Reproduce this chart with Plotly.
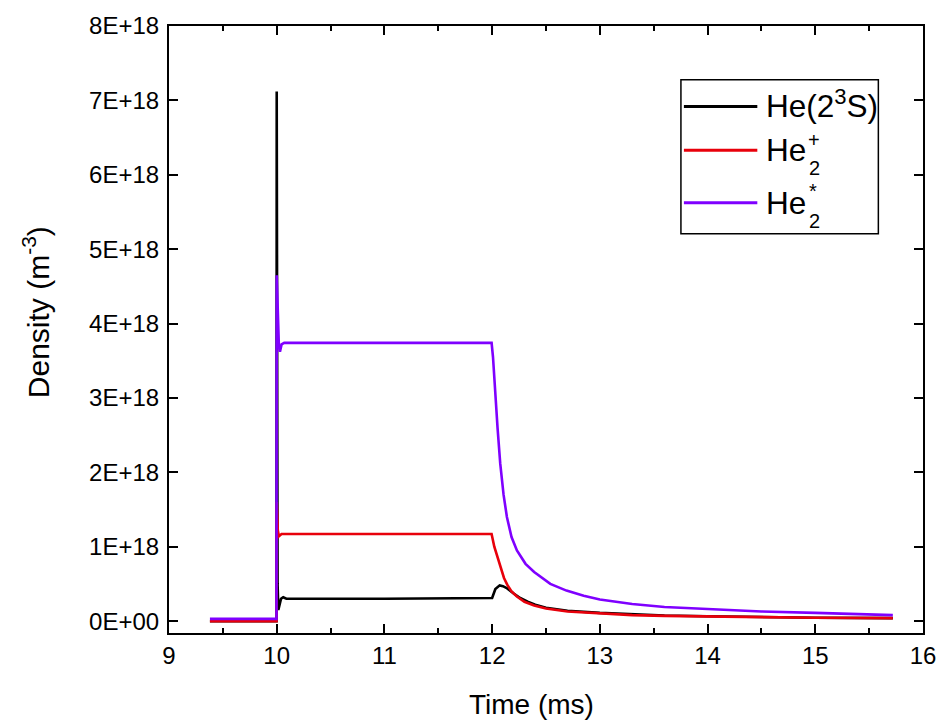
import plotly.graph_objects as go

# Densities in units of 1E+18 m^-3, time in ms
SCALE = 1e18

t_he23s = [9.38, 9.998, 10.0, 10.003, 10.008, 10.015, 10.025, 10.04, 10.06, 10.09,
           11.0, 11.985, 12.0, 12.03, 12.07, 12.1, 12.14, 12.2, 12.26, 12.33, 12.4,
           12.5, 12.7, 13.0, 13.3, 13.6, 14.0, 14.5, 15.0, 15.72]
n_he23s = [0.0, 0.0, 7.12, 1.6, 0.5, 0.15, 0.22, 0.3, 0.32, 0.3,
           0.3, 0.3, 0.31, 0.43, 0.48, 0.47, 0.44, 0.37, 0.31, 0.26, 0.22,
           0.18, 0.14, 0.11, 0.09, 0.075, 0.065, 0.052, 0.045, 0.04]

t_he2p = [9.38, 9.998, 10.0, 10.004, 10.01, 10.02, 10.03, 10.045, 10.07, 11.0,
          11.995, 12.02, 12.05, 12.08, 12.11, 12.14, 12.18, 12.23, 12.3, 12.39,
          12.5, 12.7, 13.0, 13.3, 13.6, 14.0, 14.5, 15.0, 15.72]
n_he2p = [0.0, 0.0, 1.6, 1.35, 1.22, 1.14, 1.15, 1.17, 1.17, 1.17,
          1.17, 1.0, 0.85, 0.7, 0.58, 0.49, 0.4, 0.33, 0.26, 0.21,
          0.17, 0.13, 0.1, 0.08, 0.07, 0.06, 0.05, 0.045, 0.04]

t_he2s = [9.38, 9.998, 10.0, 10.005, 10.012, 10.02, 10.03, 10.045, 10.07, 10.1,
          11.0, 11.995, 12.008, 12.025, 12.05, 12.075, 12.106, 12.137, 12.18, 12.23, 12.31,
          12.39, 12.54, 12.69, 12.85, 13.0, 13.3, 13.6, 14.0, 14.5, 15.0, 15.72]
n_he2s = [0.03, 0.03, 4.65, 4.4, 3.9, 3.7, 3.62, 3.72, 3.74, 3.74,
          3.74, 3.74, 3.55, 3.12, 2.6, 2.12, 1.7, 1.4, 1.13, 0.95, 0.77,
          0.66, 0.5, 0.41, 0.34, 0.29, 0.23, 0.19, 0.16, 0.13, 0.11, 0.08]

y_ticks = [0, 1, 2, 3, 4, 5, 6, 7, 8]
y_tick_text = ["0E+00", "1E+18", "2E+18", "3E+18", "4E+18", "5E+18", "6E+18", "7E+18", "8E+18"]
x_ticks = [9, 10, 11, 12, 13, 14, 15, 16]

BLACK = "#000000"
RED = "#e8000b"
PURPLE = "#7f00ff"
FONT = "Liberation Sans, Arial, sans-serif"

fig = go.Figure()
for t, n, c in [(t_he23s, n_he23s, BLACK), (t_he2p, n_he2p, RED), (t_he2s, n_he2s, PURPLE)]:
    fig.add_trace(go.Scatter(x=t, y=[v * SCALE for v in n], mode="lines",
                             line=dict(color=c, width=2.6), showlegend=False))

axis_common = dict(showline=True, linecolor="black", linewidth=2, mirror="ticks",
                   ticks="inside", tickwidth=2, tickcolor="black", ticklen=9,
                   showgrid=False, zeroline=False,
                   tickfont=dict(family=FONT, size=24, color="black"))

fig.update_xaxes(range=[9, 16], tickvals=x_ticks,
                 minor=dict(dtick=0.5, ticks="inside", ticklen=5, tickwidth=2, tickcolor="black"),
                 **axis_common)
fig.update_yaxes(range=[-0.16 * SCALE, 8 * SCALE], tickvals=[v * SCALE for v in y_ticks],
                 ticktext=y_tick_text, ticklabelstandoff=3,
                 **axis_common)

# Plot area in pixels: x 169..929, y 22..633
L, R, T, B = 169, 929, 22, 633
W, H = R - L, B - T


def px(x):
    return (x - L) / W


def py(y):
    return (B - y) / H


def label(text, x, y, size, xanchor="left", angle=0):
    fig.add_annotation(text=text, xref="paper", yref="paper", x=px(x), y=py(y), xanchor=xanchor,
                       yanchor="middle", showarrow=False, textangle=angle,
                       font=dict(family=FONT, size=size, color="black"))


# Axis titles
label("Time (ms)", 534, 705, 28, xanchor="center")
label("Density (m<sup>-3</sup>)", 35, 310, 30, xanchor="center", angle=-90)

# Hand-drawn legend box with stacked sub/superscripts
fig.add_shape(type="rect", xref="paper", yref="paper", x0=px(685), x1=px(884), y0=py(231), y1=py(76),
              line=dict(color="black", width=1.5), fillcolor="white", layer="above")
legend_rows = [(103, BLACK), (147, RED), (200, PURPLE)]
for yy, c in legend_rows:
    fig.add_shape(type="line", xref="paper", yref="paper", x0=px(688), x1=px(762), y0=py(yy), y1=py(yy),
                  line=dict(color=c, width=3), layer="above")

label("He(2<sup>3</sup>S)", 769, 101, 31.5)
label("He", 769, 147, 31.5)
label("2", 812, 165, 20)
label("+", 811, 137, 20)
label("He", 769, 200, 31.5)
label("2", 812, 218, 20)
label("*", 812, 188, 20)

fig.update_layout(width=948, height=728, margin=dict(l=L, r=948 - R, t=T, b=728 - B),
                  plot_bgcolor="white", paper_bgcolor="white")

fig.write_html("out.html")
